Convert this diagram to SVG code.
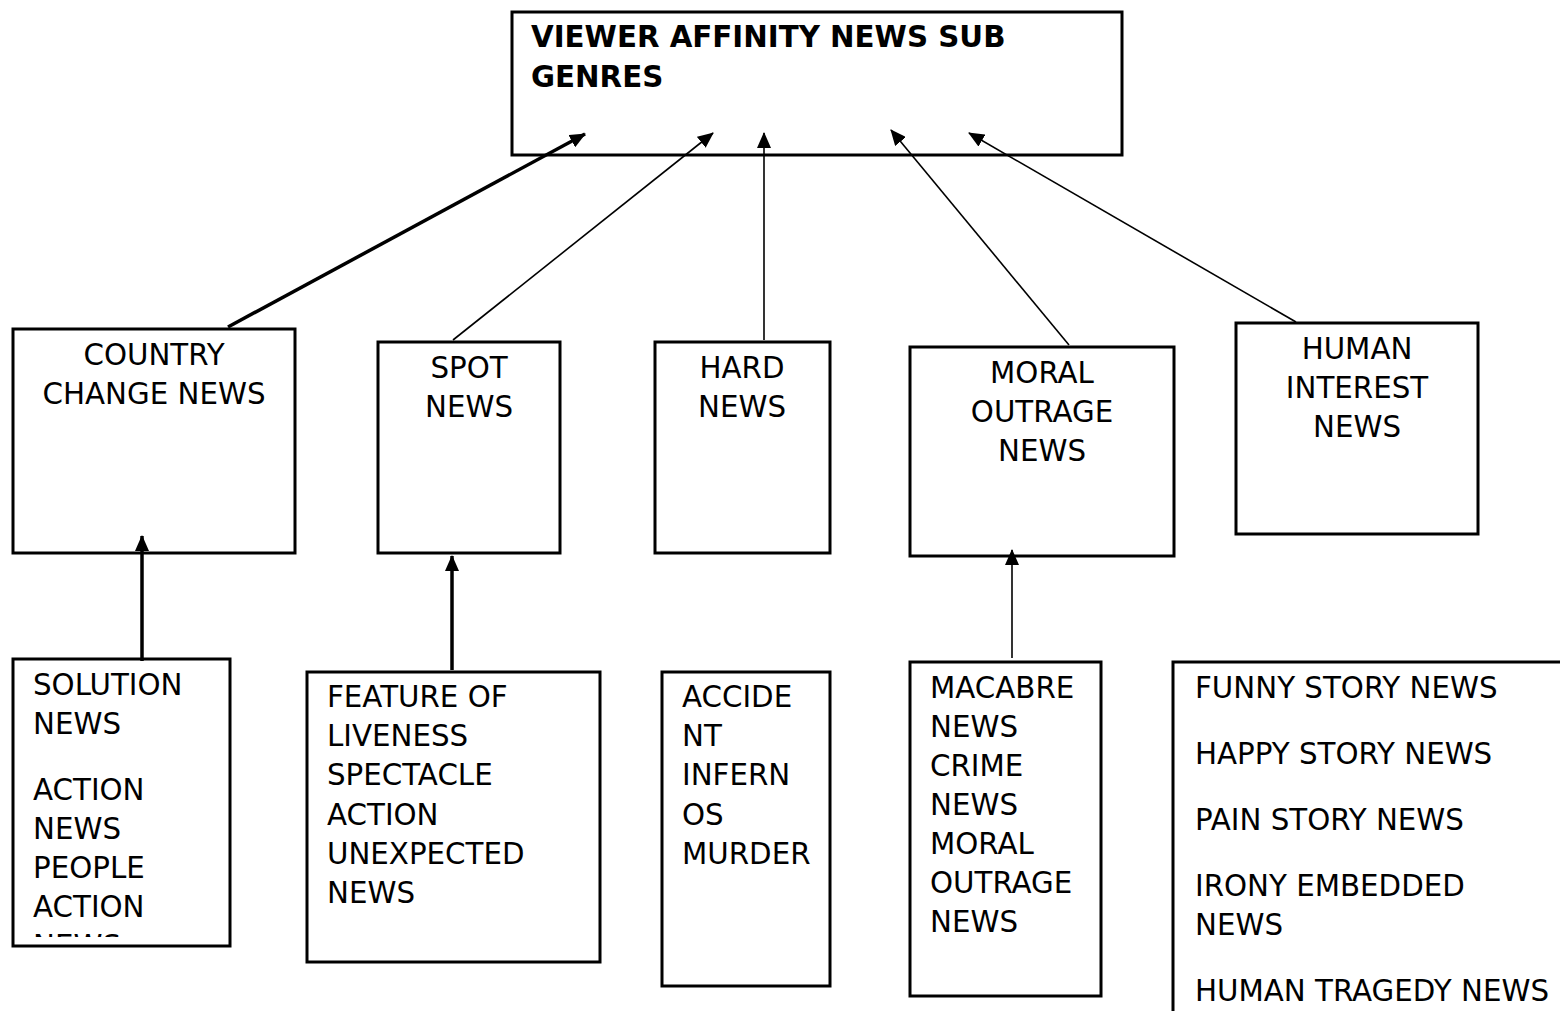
<svg xmlns="http://www.w3.org/2000/svg" width="1560" height="1011" viewBox="0 0 1560 1011">
<style>
.box{fill:#fff;stroke:#000;stroke-width:3}
.t{font-family:"DejaVu Sans",sans-serif;font-size:29.3px;fill:#000}
.c{text-anchor:middle}
.b{font-weight:bold}
.thin{stroke:#000;stroke-width:1.6;fill:none}
.thick{stroke:#000;stroke-width:3.5;fill:none}
</style>
<defs>
<marker id="ah" markerUnits="userSpaceOnUse" markerWidth="16" markerHeight="14" refX="15" refY="7" orient="auto">
<path d="M0,0 L16,7 L0,14 Z" fill="#000"/>
</marker>
<clipPath id="solclip"><rect x="13" y="650" width="217" height="287"/></clipPath>
</defs>
<g id="title">
<rect class="box" x="512" y="12" width="610" height="143"/>
<text class="t b" x="531" y="47">VIEWER AFFINITY NEWS SUB</text>
<text class="t b" x="531" y="87">GENRES</text>
</g>
<g id="country">
<rect class="box" x="13" y="329" width="282" height="224"/>
<text class="t c" x="154" y="365">COUNTRY</text>
<text class="t c" x="154" y="404">CHANGE NEWS</text>
</g>
<g id="spot">
<rect class="box" x="378" y="342" width="182" height="211"/>
<text class="t c" x="469" y="378">SPOT</text>
<text class="t c" x="469" y="417">NEWS</text>
</g>
<g id="hard">
<rect class="box" x="655" y="342" width="175" height="211"/>
<text class="t c" x="742" y="378">HARD</text>
<text class="t c" x="742" y="417">NEWS</text>
</g>
<g id="moral">
<rect class="box" x="910" y="347" width="264" height="209"/>
<text class="t c" x="1042" y="383">MORAL</text>
<text class="t c" x="1042" y="422">OUTRAGE</text>
<text class="t c" x="1042" y="461">NEWS</text>
</g>
<g id="human">
<rect class="box" x="1236" y="323" width="242" height="211"/>
<text class="t c" x="1357" y="359">HUMAN</text>
<text class="t c" x="1357" y="398">INTEREST</text>
<text class="t c" x="1357" y="437">NEWS</text>
</g>
<g id="solution">
<rect class="box" x="13" y="659" width="217" height="287"/>
<g clip-path="url(#solclip)">
<text class="t" x="33" y="695">SOLUTION</text>
<text class="t" x="33" y="734">NEWS</text>
<text class="t" x="33" y="800">ACTION</text>
<text class="t" x="33" y="839">NEWS</text>
<text class="t" x="33" y="878">PEOPLE</text>
<text class="t" x="33" y="917">ACTION</text>
<text class="t" x="33" y="956">NEWS</text>
</g>
</g>
<g id="feature">
<rect class="box" x="307" y="672" width="293" height="290"/>
<text class="t" x="327" y="707">FEATURE OF</text>
<text class="t" x="327" y="746">LIVENESS</text>
<text class="t" x="327" y="785">SPECTACLE</text>
<text class="t" x="327" y="825">ACTION</text>
<text class="t" x="327" y="864">UNEXPECTED</text>
<text class="t" x="327" y="903">NEWS</text>
</g>
<g id="accident">
<rect class="box" x="662" y="672" width="168" height="314"/>
<text class="t" x="682" y="707">ACCIDE</text>
<text class="t" x="682" y="746">NT</text>
<text class="t" x="682" y="785">INFERN</text>
<text class="t" x="682" y="825">OS</text>
<text class="t" x="682" y="864">MURDER</text>
</g>
<g id="macabre">
<rect class="box" x="910" y="662" width="191" height="334"/>
<text class="t" x="930" y="698">MACABRE</text>
<text class="t" x="930" y="737">NEWS</text>
<text class="t" x="930" y="776">CRIME</text>
<text class="t" x="930" y="815">NEWS</text>
<text class="t" x="930" y="854">MORAL</text>
<text class="t" x="930" y="893">OUTRAGE</text>
<text class="t" x="930" y="932">NEWS</text>
</g>
<g id="funny">
<rect class="box" x="1173" y="662" width="420" height="400"/>
<text class="t" x="1195" y="698">FUNNY STORY NEWS</text>
<text class="t" x="1195" y="764">HAPPY STORY NEWS</text>
<text class="t" x="1195" y="830">PAIN STORY NEWS</text>
<text class="t" x="1195" y="896">IRONY EMBEDDED</text>
<text class="t" x="1195" y="935">NEWS</text>
<text class="t" x="1195" y="1001">HUMAN TRAGEDY NEWS</text>
</g>
<g id="connectors">
<line class="thick" x1="228" y1="327" x2="585" y2="134" marker-end="url(#ah)"/>
<line class="thin" x1="453" y1="340" x2="713" y2="133" marker-end="url(#ah)"/>
<line class="thin" x1="764" y1="340" x2="764" y2="133" marker-end="url(#ah)"/>
<line class="thin" x1="1069" y1="345" x2="891" y2="130" marker-end="url(#ah)"/>
<line class="thin" x1="1296" y1="322" x2="969" y2="133" marker-end="url(#ah)"/>
<line class="thick" x1="142" y1="661" x2="142" y2="536" marker-end="url(#ah)"/>
<line class="thick" x1="452" y1="670" x2="452" y2="556" marker-end="url(#ah)"/>
<line class="thin" x1="1012" y1="658" x2="1012" y2="550" marker-end="url(#ah)"/>
</g>
</svg>
